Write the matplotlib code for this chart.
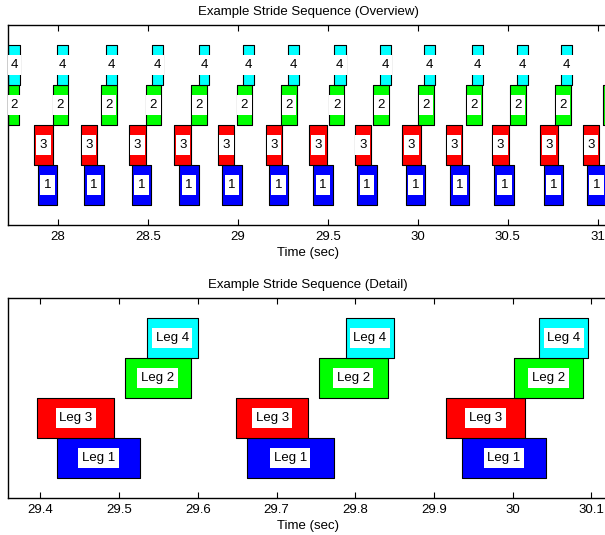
import matplotlib
matplotlib.use('Agg')
import matplotlib.pyplot as plt

plt.rcParams['font.family'] = ['Liberation Sans', 'DejaVu Sans']

# stance phases (sec)
leg1_start = [27.892, 28.146, 28.411, 28.674, 28.914, 29.172, 29.421, 29.662, 29.936, 30.181, 30.426, 30.702, 30.939]
leg1_end = [27.998, 28.256, 28.518, 28.783, 29.022, 29.278, 29.527, 29.773, 30.042, 30.287, 30.537, 30.809, 31.050]

leg3_start = [27.870, 28.129, 28.398, 28.648, 28.892, 29.156, 29.396, 29.649, 29.915, 30.156, 30.414, 30.678, 30.918]
leg3_end = [27.972, 28.220, 28.489, 28.742, 28.981, 29.246, 29.494, 29.740, 30.016, 30.248, 30.507, 30.781, 31.007]

leg2_start = [27.725, 27.972, 28.242, 28.489, 28.742, 28.994, 29.242, 29.507, 29.754, 30.002, 30.268, 30.514, 30.763, 31.031]
leg2_end = [27.787, 28.057, 28.328, 28.574, 28.831, 29.079, 29.328, 29.591, 29.841, 30.089, 30.357, 30.602, 30.850, 31.120]

leg4_start = [27.725, 27.998, 28.268, 28.522, 28.783, 29.031, 29.279, 29.535, 29.788, 30.034, 30.300, 30.552, 30.794]
leg4_end = [27.791, 28.059, 28.328, 28.583, 28.842, 29.092, 29.339, 29.600, 29.849, 30.096, 30.364, 30.611, 30.859]

legs = [
    # name, row, color, starts, ends
    ('1', 1, '#0000ff', leg1_start, leg1_end),
    ('3', 2, '#ff0000', leg3_start, leg3_end),
    ('2', 3, '#00ff00', leg2_start, leg2_end),
    ('4', 4, '#00ffff', leg4_start, leg4_end),
]

overview_xlim = (27.724, 31.057)
overview_ticks = [28, 28.5, 29, 29.5, 30, 30.5, 31]
overview_ticklabels = ['28', '28.5', '29', '29.5', '30', '30.5', '31']
detail_xlim = (29.359, 30.121)
detail_ticks = [29.4, 29.5, 29.6, 29.7, 29.8, 29.9, 30.0, 30.1]
detail_ticklabels = ['29.4', '29.5', '29.6', '29.7', '29.8', '29.9', '30', '30.1']

fs = 9.5

fig = plt.figure(figsize=(6.05, 5.35), dpi=100)
ax1 = fig.add_axes([8/605, 1-225/535, 600/605, 200/535])
ax2 = fig.add_axes([8/605, 1-498/535, 600/605, 200/535])


def draw(ax, xlim, ticks, ticklabels, title, prefix):
    for name, row, color, starts, ends in legs:
        spans = [(s, e - s) for s, e in zip(starts, ends)]
        ax.broken_barh(spans, (row - 0.5, 1.0), facecolors=color,
                       edgecolors='black', linewidth=0.8)
        for s, e in zip(starts, ends):
            mid = (s + e) / 2
            if mid < xlim[0] or mid > xlim[1]:
                continue  # label would be off the figure anyway
            ax.text(mid, row, prefix + name, ha='center', va='center',
                    fontsize=fs, clip_on=True,
                    bbox=dict(facecolor='white', edgecolor='none', pad=2.6))
    ax.set_xlim(*xlim)
    ax.set_ylim(0, 5)
    ax.set_xticks(ticks)
    ax.set_xticklabels(ticklabels, fontsize=fs)
    ax.set_yticks([])
    ax.tick_params(axis='x', direction='in', top=True, length=4, pad=4)
    ax.set_title(title, fontsize=fs, pad=7)
    ax.set_xlabel('Time (sec)', fontsize=fs, labelpad=3)
    for sp in ax.spines.values():
        sp.set_linewidth(1.0)


draw(ax1, overview_xlim, overview_ticks, overview_ticklabels,
     'Example Stride Sequence (Overview)', '')
draw(ax2, detail_xlim, detail_ticks, detail_ticklabels,
     'Example Stride Sequence (Detail)', 'Leg ')

fig.savefig('out.png', dpi=100)
